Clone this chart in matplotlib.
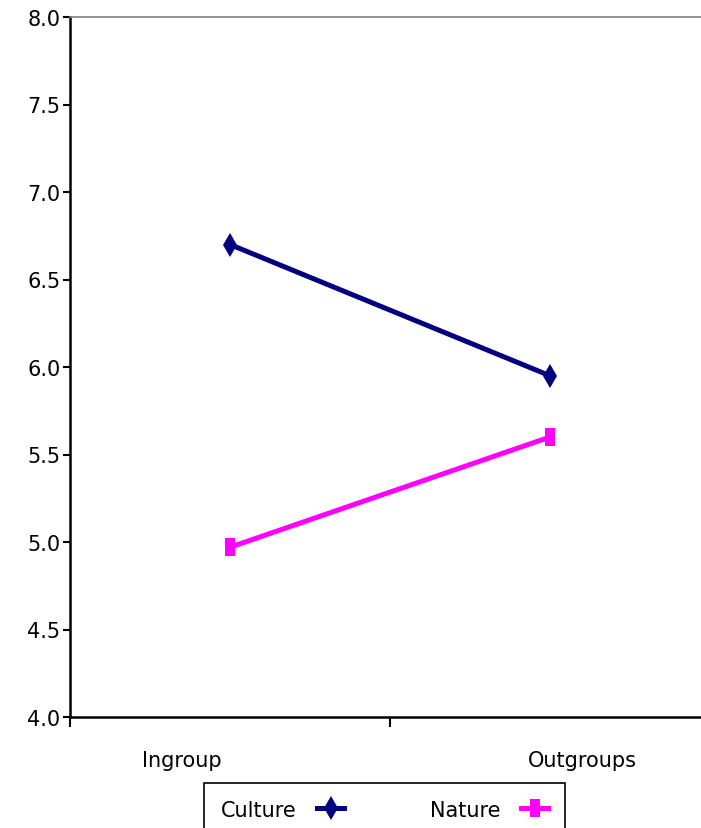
import matplotlib.pyplot as plt
from matplotlib.path import Path

plt.rcParams["font.family"] = ["DejaVu Sans"]

categories = ['Ingroup', 'Outgroups']
culture = [6.70, 5.95]
nature = [4.97, 5.60]

# tall narrow rectangle like the original Nature marker
rect = Path([(-0.28, -0.5), (0.28, -0.5), (0.28, 0.5), (-0.28, 0.5), (-0.28, -0.5)],
            [Path.MOVETO, Path.LINETO, Path.LINETO, Path.LINETO, Path.CLOSEPOLY])

fig = plt.figure(figsize=(7.01, 8.29), dpi=100)
ax = fig.add_axes([70 / 701, 1 - 718 / 829, 640 / 701, 700 / 829])

xpos = [0.5, 1.5]
ax.plot(xpos, culture, color='#000080', lw=3.6, marker='d', markersize=12,
        markeredgewidth=0, label='Culture')
ax.plot(xpos, nature, color='#ff00ff', lw=3.6, marker=rect, markersize=13,
        markeredgewidth=0, label='Nature')

ax.set_xlim(0, 2)
ax.set_ylim(4.0, 8.0)
ax.set_yticks([4.0, 4.5, 5.0, 5.5, 6.0, 6.5, 7.0, 7.5, 8.0])
ax.set_yticklabels(['%.1f' % v for v in ax.get_yticks()], fontsize=15)
ax.set_xticks([0, 1, 2])
ax.set_xticklabels([])
# category labels sit a little off the points in the original
ax.set_xticks([0.35, 1.6], minor=True)
ax.set_xticklabels(categories, minor=True, fontsize=15)
ax.tick_params(axis='x', which='minor', length=0, pad=24)
ax.tick_params(axis='x', which='major', direction='out', length=7, width=1.5)
ax.tick_params(axis='y', direction='out', length=5, width=1.5, pad=2)

ax.spines['top'].set_color('#808080')
ax.spines['top'].set_linewidth(1.2)
ax.spines['right'].set_visible(False)
ax.spines['left'].set_linewidth(1.8)
ax.spines['bottom'].set_linewidth(1.8)

leg = fig.legend(loc='upper left', bbox_to_anchor=(204 / 701, 1 - 784 / 829),
                 ncol=2, markerfirst=False, fontsize=15, frameon=True,
                 fancybox=False, edgecolor='black', framealpha=1,
                 handlelength=1.3, columnspacing=4.1, borderpad=0.8,
                 handletextpad=1.0, borderaxespad=0)
leg.get_frame().set_linewidth(1.2)

fig.savefig('out.png', dpi=100)
